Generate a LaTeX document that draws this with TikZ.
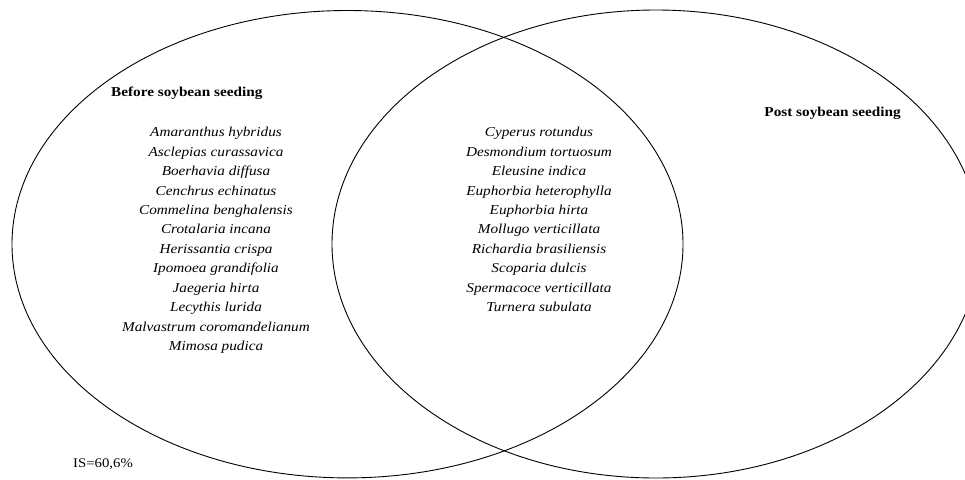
\documentclass[tikz,border=0pt]{standalone}
\usepackage{fontspec}
\newfontfamily\tnr[FakeStretch=1.12]{Liberation Serif}
\usetikzlibrary{shapes.geometric}
\begin{document}
\begin{tikzpicture}[x=1pt,y=-1pt,
  setellipse/.style={ellipse, draw, line width=0.9pt, inner sep=0pt, outer sep=0pt},
  settitle/.style={font=\tnr\bfseries\fontsize{13.6}{16}\selectfont, inner sep=0pt},
  species/.style={font=\tnr\itshape\fontsize{13.6}{16}\selectfont, inner sep=0pt, anchor=base},
  note/.style={font=\tnr\fontsize{13.2}{16}\selectfont, inner sep=0pt, anchor=base west}]
\clip (0,0) rectangle (965,479);
\fill[white] (0,0) rectangle (965,479);
\node[setellipse, minimum width=671pt, minimum height=467.4pt] (before) at (347.5,244.2) {};
\node[setellipse, minimum width=648pt, minimum height=468pt] (post) at (656,244) {};
\node[settitle, anchor=base west] (beforelabel) at (111,96.7) {Before soybean seeding};
\node[settitle, anchor=base] (postlabel) at (832.6,116.7) {Post soybean seeding};
\foreach \sp [count=\i from 0] in {Amaranthus hybridus, Asclepias curassavica, Boerhavia diffusa, Cenchrus echinatus, Commelina benghalensis, Crotalaria incana, Herissantia crispa, Ipomoea grandifolia, Jaegeria hirta, Lecythis lurida, Malvastrum coromandelianum, Mimosa pudica}
  \node[species] (L\i) at (216,{136.7+19.45*\i}) {\sp};
\foreach \sp [count=\i from 0] in {Cyperus rotundus, Desmondium tortuosum, Eleusine indica, Euphorbia heterophylla, Euphorbia hirta, Mollugo verticillata, Richardia brasiliensis, Scoparia dulcis, Spermacoce verticillata, Turnera subulata}
  \node[species] (R\i) at (539,{136.7+19.45*\i}) {\sp};
\node[note] (index) at (73,467) {IS=60,6\%};
\end{tikzpicture}
\end{document}
